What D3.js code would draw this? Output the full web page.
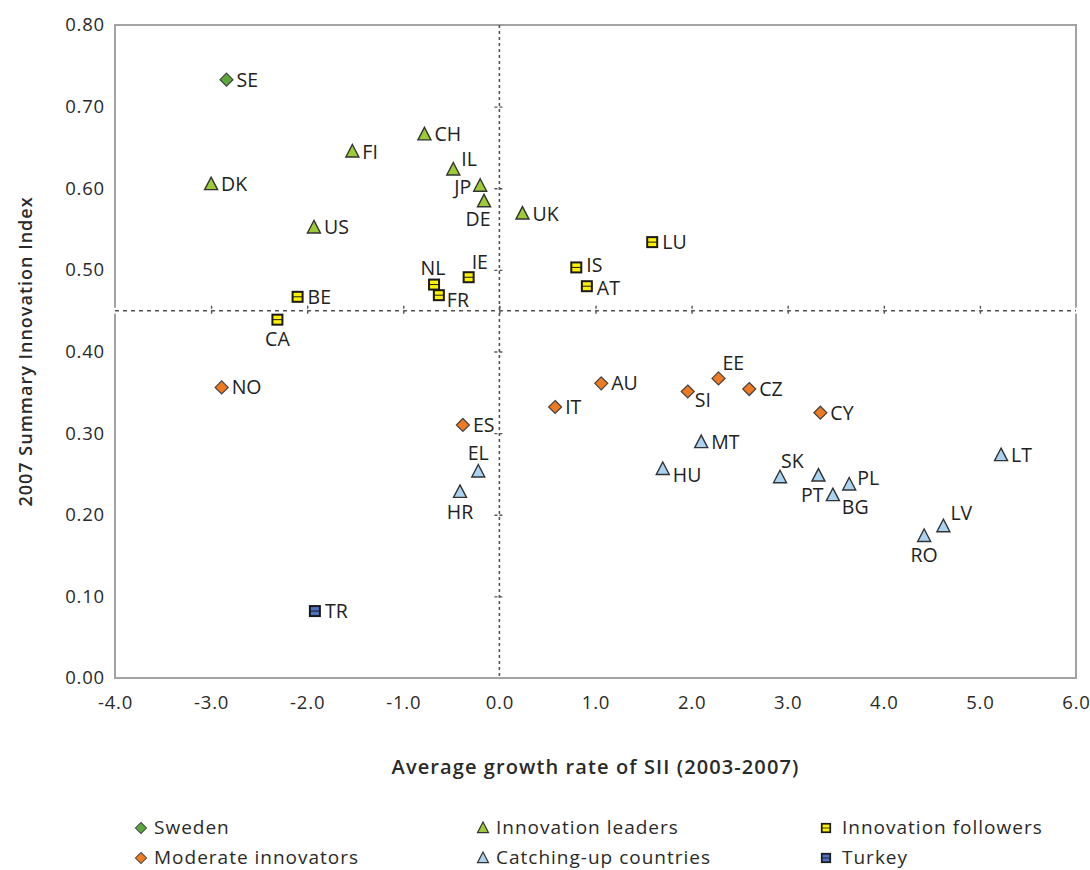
<!DOCTYPE html>
<html>
<head>
<meta charset="utf-8">
<script src="https://cdn.jsdelivr.net/npm/d3@7"></script>
<style>
  body { margin: 0; background: #fff; }
  svg text { font-family: "Open Sans", "Noto Sans", sans-serif; fill: #222; }
</style>
</head>
<body>
<svg id="chart" width="1090" height="870"></svg>
<script>
// country codes, growth rate of SII (x) and 2007 SII (y), group index
const codes  = ["SE","DK","FI","CH","IL","JP","DE","UK","US",
                "LU","IS","AT","IE","NL","FR","BE","CA",
                "NO","AU","EE","SI","CZ","IT","CY","ES",
                "MT","EL","HU","LT","SK","PT","PL","BG","HR","LV","RO",
                "TR"];
const growth = [-2.84,-3.00,-1.53,-0.78,-0.48,-0.20,-0.16,0.24,-1.93,
                1.59,0.80,0.91,-0.32,-0.68,-0.63,-2.10,-2.31,
                -2.89,1.06,2.28,1.96,2.60,0.58,3.34,-0.38,
                2.10,-0.22,1.70,5.22,2.92,3.32,3.64,3.47,-0.41,4.62,4.42,
                -1.92];
const sii    = [0.733,0.605,0.645,0.666,0.623,0.603,0.584,0.569,0.552,
                0.534,0.503,0.480,0.491,0.482,0.469,0.467,0.439,
                0.356,0.361,0.367,0.351,0.354,0.332,0.325,0.310,
                0.289,0.253,0.256,0.273,0.246,0.248,0.237,0.224,0.228,0.186,0.174,
                0.082];
const group  = [0,1,1,1,1,1,1,1,1,
                2,2,2,2,2,2,2,2,
                3,3,3,3,3,3,3,3,
                4,4,4,4,4,4,4,4,4,4,4,
                5];

const groupNames = ["Sweden","Innovation leaders","Innovation followers",
                    "Moderate innovators","Catching-up countries","Turkey"];
const xTicks = [-4,-3,-2,-1,0,1,2,3,4,5,6];
const yTicks = [0,0.1,0.2,0.3,0.4,0.5,0.6,0.7,0.8];
const splitX = 0;      // vertical reference line
const splitY = 0.45;   // horizontal reference line

const data = codes.map((c, i) => ({code: c, x: growth[i], y: sii[i], g: group[i]}));

// marker look per group
const shapes = ["diamond","triangle","square","diamond","triangle","square"];
const fills  = ["#5aa83a","#9ccb35","#fff200","#ee7a22","#a9d3f0","#4d72c4"];

// label placement around the marker: [dx, dy, anchor]
const labelOffsets = {
  IL: [8,-3,"start"], JP: [-9,8,"end"], DE: [-6,25,"middle"],
  IE: [3,-8,"start"], NL: [-1,-10,"middle"], FR: [8,12,"start"],
  CA: [0,26,"middle"], EE: [4,-8,"start"], SI: [7,16,"start"],
  EL: [0,-11,"middle"], HU: [10,13,"start"], SK: [1,-9,"start"],
  PT: [5,26,"end"], PL: [8,0,"start"], BG: [9,19,"start"],
  HR: [0,27,"middle"], LV: [7,-6,"start"], RO: [0,26,"middle"],
  IS: [10,5,"start"], AT: [10,9,"start"]
};

// hyphen minus as in the original, not the typographic one
const fmt = f => d => d3.format(f)(d).replace("\u2212", "-");

const margin = {top: 25, left: 115, right: 14, bottom: 192};
const width = 1090 - margin.left - margin.right,
      height = 870 - margin.top - margin.bottom;

const svg = d3.select("#chart");
const g = svg.append("g").attr("transform", "translate(" + margin.left + "," + margin.top + ")");

const x = d3.scaleLinear().domain([-4, 6]).range([0, width]);
const y = d3.scaleLinear().domain([0, 0.8]).range([height, 0]);

// tick labels (no tick marks on the frame)
let yAxis = g.append("g")
    .call(d3.axisLeft(y).tickValues(yTicks).tickSize(0).tickPadding(10).tickFormat(fmt(".2f")));
yAxis.select(".domain").remove();
yAxis.selectAll("text").style("font-size", "18.5px").attr("letter-spacing", "0.8px").style("fill", "#2a2a2a");

let xAxis = g.append("g")
    .attr("transform", "translate(0," + height + ")")
    .call(d3.axisBottom(x).tickValues(xTicks).tickSize(0).tickPadding(18).tickFormat(fmt(".1f")));
xAxis.select(".domain").remove();
xAxis.selectAll("text").style("font-size", "18.5px").attr("letter-spacing", "0.8px").style("fill", "#2a2a2a");

// frame
g.append("rect")
    .attr("width", width).attr("height", height)
    .attr("fill", "none").attr("stroke", "#a3a3a3").attr("stroke-width", 2);

// small gaps in the frame where the horizontal line passes
[0, width].forEach(px => {
    g.append("line")
        .attr("x1", px).attr("x2", px)
        .attr("y1", y(splitY) - 3).attr("y2", y(splitY) + 3)
        .attr("stroke", "#fff").attr("stroke-width", 4);
});

// dashed reference lines with little cross ticks
let vLine = g.append("g")
    .attr("transform", "translate(" + x(splitX) + ",0)")
    .call(d3.axisLeft(y).tickValues(yTicks.filter(d => d > 0 && d < 0.8)).tickSize(10).tickFormat(""));
vLine.select(".domain").attr("d", "M0,0V" + height)
    .attr("stroke", "#555").attr("stroke-width", 1.6).attr("stroke-dasharray", "3,3");
vLine.selectAll(".tick line").attr("x1", -5).attr("x2", 5)
    .attr("stroke", "#555").attr("stroke-width", 1.4).attr("stroke-dasharray", "3,2");

let hLine = g.append("g")
    .attr("transform", "translate(0," + y(splitY) + ")")
    .call(d3.axisBottom(x).tickValues(xTicks.filter(d => d > -4 && d < 6)).tickSize(10).tickFormat(""));
hLine.select(".domain").attr("d", "M0,0H" + width)
    .attr("stroke", "#555").attr("stroke-width", 1.6).attr("stroke-dasharray", "4,4");
hLine.selectAll(".tick line").attr("y1", -5).attr("y2", 5)
    .attr("stroke", "#555").attr("stroke-width", 1.4).attr("stroke-dasharray", "3,2");

// marker drawing
function marker(sel, gi) {
    const shape = shapes[gi];
    if (shape === "diamond") {
        sel.append("path").attr("d", "M0,-6.5L6.5,0L0,6.5L-6.5,0Z")
            .attr("fill", fills[gi]).attr("stroke", "#444").attr("stroke-width", 1.2);
    } else if (shape === "triangle") {
        sel.append("path").attr("d", "M0,-7L6.5,5.5L-6.5,5.5Z")
            .attr("fill", fills[gi]).attr("stroke", "#333").attr("stroke-width", 1.4);
    } else {
        sel.append("rect").attr("x", -5).attr("y", -5).attr("width", 10).attr("height", 10)
            .attr("fill", fills[gi]).attr("stroke", "#1a1a1a").attr("stroke-width", 2);
        sel.append("line").attr("x1", -5).attr("x2", 5).attr("y1", 0).attr("y2", 0)
            .attr("stroke", "#1a1a1a").attr("stroke-width", 1);
    }
}

// points
let pts = g.selectAll("g.pt")
    .data(data)
    .enter().append("g")
    .attr("class", "pt")
    .attr("transform", d => "translate(" + x(d.x) + "," + y(d.y) + ")");

pts.each(function(d) { marker(d3.select(this), d.g); });

pts.append("text")
    .attr("x", d => (labelOffsets[d.code] || [10, 7, "start"])[0])
    .attr("y", d => (labelOffsets[d.code] || [10, 7, "start"])[1])
    .attr("text-anchor", d => (labelOffsets[d.code] || [10, 7, "start"])[2])
    .style("font-size", "19.5px")
    .text(d => d.code);

// axis titles
svg.append("text")
    .attr("x", margin.left + x(1))
    .attr("y", 774)
    .attr("text-anchor", "middle")
    .attr("letter-spacing", "1.1px")
    .style("font-size", "20px").style("font-weight", 600).style("fill", "#2a2a2a")
    .text("Average growth rate of SII (2003-2007)");

svg.append("text")
    .attr("transform", "translate(32," + (margin.top + y(0.4)) + ") rotate(-90)")
    .attr("text-anchor", "middle")
    .attr("letter-spacing", "1px")
    .style("font-size", "18px").style("font-weight", 600).style("fill", "#2a2a2a")
    .text("2007 Summary Innovation Index");

// legend, three columns by two rows
const legendCols = [141, 483, 826];
const legendRows = [828, 858];
let legend = svg.append("g");
groupNames.forEach((name, i) => {
    let item = legend.append("g")
        .attr("transform", "translate(" + legendCols[i % 3] + "," + legendRows[Math.floor(i / 3)] + ")");
    let m = item.append("g").attr("transform", "scale(0.85)");
    marker(m, i);
    item.append("text")
        .attr("x", i % 3 === 2 ? 16 : 13)
        .attr("y", 6)
        .attr("letter-spacing", "1px")
        .style("font-size", "19px").style("fill", "#2a2a2a")
        .text(name);
});
</script>
</body>
</html>
